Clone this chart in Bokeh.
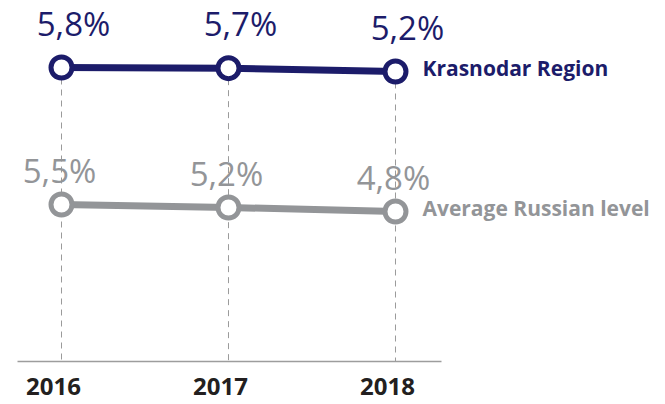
from bokeh.plotting import figure
from bokeh.models import Range1d, ColumnDataSource, LabelSet, FixedTicker, LinearAxis
from bokeh.core.properties import value
from bokeh.embed import file_html
from bokeh.resources import INLINE

# ---- data ----
years = [2016, 2017, 2018]
krasnodar = [5.8, 5.7, 5.2]
russia = [5.5, 5.2, 4.8]
krasnodar_labels = ["5,8%", "5,7%", "5,2%"]
russia_labels = ["5,5%", "5,2%", "4,8%"]
series_names = ["Krasnodar Region", "Average Russian level"]

NAVY = "#1c1c6a"
GREY = "#939598"
FONT = value("Open Sans")

W, H = 660, 400
BOTTOM = 39

X_RANGE = (2015.6347, 2019.587)
LABEL_SHIFT = 0.048  # year labels sit a little left of their ticks
# stylised (infographic) vertical scales, one per series
K_RANGE = (-38.3, 15.85)
R_RANGE = (-10.2, 25.9)

p = figure(width=W, height=H, output_backend="svg", toolbar_location=None,
           x_range=Range1d(*X_RANGE), x_axis_location=None,
           y_range=Range1d(*K_RANGE), y_axis_location=None,
           min_border_left=0, min_border_right=0, min_border_top=0,
           min_border_bottom=BOTTOM)
p.extra_y_ranges = {"rus": Range1d(*R_RANGE)}
p.extra_x_ranges = {"lab": Range1d(X_RANGE[0] + LABEL_SHIFT, X_RANGE[1] + LABEL_SHIFT)}
p.outline_line_color = None
p.grid.visible = False
p.background_fill_color = "white"
p.border_fill_color = "white"

ks = ColumnDataSource(dict(x=years, y=krasnodar, t=krasnodar_labels,
                           yb=[K_RANGE[0]] * len(years)))
rs = ColumnDataSource(dict(x=years, y=russia, t=russia_labels))

# dashed drop lines
p.segment(x0="x", y0="y", x1="x", y1="yb", source=ks, line_color="#9a9a9a",
          line_width=1, line_dash="6 5")

# lines
p.line("x", "y", source=rs, y_range_name="rus", line_color=GREY, line_width=7)
p.line("x", "y", source=ks, line_color=NAVY, line_width=7)

# markers
p.scatter("x", "y", source=rs, y_range_name="rus", size=21, fill_color="white",
          line_color=GREY, line_width=5)
p.scatter("x", "y", source=ks, size=21, fill_color="white",
          line_color=NAVY, line_width=5)

# value labels
p.add_layout(LabelSet(x="x", y="y", text="t", source=ks, x_offset=12, y_offset=32,
                      text_align="center", text_baseline="alphabetic",
                      text_font=FONT, text_font_size=value("33px"),
                      text_color=NAVY))
p.add_layout(LabelSet(x="x", y="y", text="t", source=rs, y_range_name="rus",
                      x_offset=-2, y_offset=22,
                      text_align="center", text_baseline="alphabetic",
                      text_font=FONT, text_font_size=value("33px"),
                      text_color=GREY))

# series names at last point
ns_k = ColumnDataSource(dict(x=[years[-1]], y=[krasnodar[-1]], t=[series_names[0]]))
ns_r = ColumnDataSource(dict(x=[years[-1]], y=[russia[-1]], t=[series_names[1]]))
p.add_layout(LabelSet(x="x", y="y", text="t", source=ns_k, x_offset=27, y_offset=-4,
                      text_align="left", text_baseline="alphabetic",
                      text_font=FONT, text_font_style="bold",
                      text_font_size=value("21px"), text_color=NAVY))
p.add_layout(LabelSet(x="x", y="y", text="t", source=ns_r, y_range_name="rus",
                      x_offset=27, y_offset=-4,
                      text_align="left", text_baseline="alphabetic",
                      text_font=FONT, text_font_style="bold",
                      text_font_size=value("21px"), text_color=GREY))

# x axis
ax = LinearAxis(x_range_name="lab")
ax.ticker = FixedTicker(ticks=years)
ax.bounds = (2015.737 + LABEL_SHIFT, 2018.275 + LABEL_SHIFT)
ax.axis_line_color = "#9d9d9d"
ax.axis_line_width = 1.5
ax.major_tick_line_color = None
ax.minor_tick_line_color = None
ax.major_label_standoff = 10
ax.major_label_text_font = "Open Sans"
ax.major_label_text_font_style = "bold"
ax.major_label_text_font_size = "24px"
ax.major_label_text_color = "#231f20"
p.add_layout(ax, "below")

open("out.html", "w").write(file_html(p, INLINE))
